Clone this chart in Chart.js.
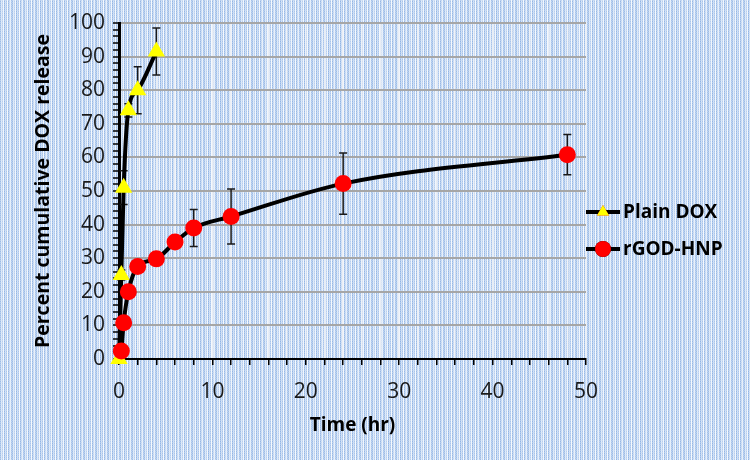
<!DOCTYPE html>
<html>
<head>
<meta charset="utf-8">
<script src="https://cdn.jsdelivr.net/npm/chart.js@4.4.0/dist/chart.umd.min.js"></script>
<style>
    html, body { margin: 0; padding: 0; background: #c6d9f0; }
    #wrap { width: 750px; height: 460px; }
</style>
</head>
<body>
<div id="wrap"><canvas id="releaseChart" width="750" height="460"></canvas></div>
<script>
// Plain DOX
const doxTimes = [0, 0.25, 0.5, 1, 2, 4];
const doxRelease = [0, 25, 51, 74, 80, 91.5];
const doxError = [0, 1.5, 5, 2, 7, 7];

// rGOD-HNP
const hnpTimes = [0.25, 0.5, 1, 2, 4, 6, 8, 12, 24, 48];
const hnpRelease = [2.4, 10.8, 20, 27.5, 29.8, 34.8, 39, 42.4, 52.2, 60.8];
const hnpError = [0, 0, 0, 0, 0, 0, 5.5, 8.2, 9.1, 6];

const xTickLabels = [0, 10, 20, 30, 40, 50];
const yTickLabels = [0, 10, 20, 30, 40, 50, 60, 70, 80, 90, 100];

const fontFamily = '"Open Sans", "Noto Sans", sans-serif';

function toPoints(xs, ys) {
    return xs.map((x, i) => ({x: x, y: ys[i]}));
}

// textured blue background
function makePattern() {
    const c = document.createElement('canvas');
    c.width = 12;
    c.height = 4;
    const p = c.getContext('2d');
    const cols = ['#9dbde7', '#d8e5f7', '#b6cef0', '#f0f5fc', '#93b6e5', '#cadcf4',
                  '#a8c5ec', '#f4f8fd', '#98b9e6', '#c3d7f2', '#e3edfa', '#a6c3eb'];
    cols.forEach((col, i) => {
        p.fillStyle = col;
        p.fillRect(i, 0, 1, 4);
        p.fillStyle = 'rgba(255,255,255,0.3)';
        p.fillRect(i, (i % 2), 1, 1);
        p.fillRect(i, 2 + (i % 2), 1, 1);
    });
    return c;
}

const backgroundPlugin = {
    id: 'texture',
    beforeDraw(chart) {
        const ctx = chart.ctx;
        ctx.save();
        ctx.fillStyle = ctx.createPattern(makePattern(), 'repeat');
        ctx.fillRect(0, 0, chart.width, chart.height);
        ctx.restore();
    }
};

const errorBarPlugin = {
    id: 'errorBars',
    beforeDatasetsDraw(chart) {
        const ctx = chart.ctx;
        const xs = chart.scales.x;
        const ys = chart.scales.y;
        ctx.save();
        ctx.strokeStyle = '#1a1a1a';
        ctx.lineWidth = 1.5;
        chart.data.datasets.forEach(ds => {
            ds.data.forEach((p, i) => {
                const e = ds.errors[i];
                if (!e) return;
                const px = xs.getPixelForValue(p.x);
                const top = ys.getPixelForValue(p.y + e);
                const bot = ys.getPixelForValue(p.y - e);
                ctx.beginPath();
                ctx.moveTo(px, top);
                ctx.lineTo(px, bot);
                ctx.moveTo(px - 4, top);
                ctx.lineTo(px + 4, top);
                ctx.moveTo(px - 4, bot);
                ctx.lineTo(px + 4, bot);
                ctx.stroke();
            });
        });
        ctx.restore();
    }
};

const legendPlugin = {
    id: 'sideLegend',
    afterDraw(chart) {
        const ctx = chart.ctx;
        const x0 = chart.chartArea.right;
        const rows = [
            {label: 'Plain DOX', y: 212, style: 'triangle', color: '#ffff00'},
            {label: 'rGOD-HNP', y: 249, style: 'circle', color: '#ff0000'}
        ];
        ctx.save();
        rows.forEach(r => {
            ctx.strokeStyle = '#000';
            ctx.lineWidth = 4;
            ctx.beginPath();
            ctx.moveTo(x0, r.y);
            ctx.lineTo(x0 + 34, r.y);
            ctx.stroke();
            Chart.helpers.drawPoint(ctx, {
                pointStyle: r.style,
                radius: r.style === 'circle' ? 8 : 7,
                borderWidth: 0
            }, x0 + 17, r.y);
            ctx.fillStyle = r.color;
            ctx.fill();
            ctx.fillStyle = '#000';
            ctx.font = 'bold 19px ' + fontFamily;
            ctx.textBaseline = 'middle';
            ctx.textAlign = 'left';
            ctx.fillText(r.label, x0 + 37, r.y + 1);
        });
        ctx.restore();
    }
};

const ctx = document.getElementById('releaseChart').getContext('2d');
new Chart(ctx, {
    type: 'line',
    data: {
        datasets: [{
            label: 'Plain DOX',
            data: toPoints(doxTimes, doxRelease),
            errors: doxError,
            borderColor: '#000',
            borderWidth: 4,
            cubicInterpolationMode: 'monotone',
            pointStyle: 'triangle',
            pointRadius: 10,
            pointBackgroundColor: '#ffff00',
            pointBorderColor: '#ffff00',
            pointBorderWidth: 0,
            clip: false,
            order: 1
        }, {
            label: 'rGOD-HNP',
            data: toPoints(hnpTimes, hnpRelease),
            errors: hnpError,
            borderColor: '#000',
            borderWidth: 4,
            cubicInterpolationMode: 'monotone',
            pointStyle: 'circle',
            pointRadius: 8.5,
            pointBackgroundColor: '#ff0000',
            pointBorderColor: '#ff0000',
            pointBorderWidth: 0,
            clip: false,
            order: 0
        }]
    },
    options: {
        responsive: false,
        devicePixelRatio: 1,
        animation: false,
        layout: {
            padding: {left: 0, top: 23, right: 164, bottom: 0}
        },
        plugins: {
            legend: {display: false},
            tooltip: {enabled: false}
        },
        scales: {
            x: {
                type: 'linear',
                min: 0,
                max: 50,
                afterFit: scale => { scale.height = 101; },
                ticks: {
                    stepSize: 2,
                    autoSkip: false,
                    maxRotation: 0,
                    padding: 14,
                    color: '#1a1a1a',
                    font: {family: fontFamily, size: 21},
                    callback: value => xTickLabels.includes(value) ? value : ''
                },
                grid: {
                    color: 'rgba(240,242,246,0.9)',
                    lineWidth: 1.5,
                    tickLength: 6,
                    tickColor: '#000',
                    tickWidth: 1.5
                },
                border: {color: '#000', width: 2},
                title: {
                    display: true,
                    text: 'Time (hr)',
                    color: '#000',
                    font: {family: fontFamily, size: 19, weight: 'bold'},
                    padding: {top: 23, bottom: 23}
                }
            },
            y: {
                min: 0,
                max: 100,
                afterFit: scale => { scale.width = 119; },
                ticks: {
                    stepSize: 2,
                    autoSkip: false,
                    padding: 8,
                    color: '#1a1a1a',
                    font: {family: fontFamily, size: 21},
                    callback: value => yTickLabels.includes(value) ? value : ''
                },
                grid: {
                    color: c => (c.tick && c.tick.value % 10 === 0) ? '#a6a6a6' : 'rgba(0,0,0,0)',
                    lineWidth: 2,
                    tickLength: 6,
                    tickColor: '#000',
                    tickWidth: 1.5
                },
                border: {color: '#000', width: 3},
                title: {
                    display: true,
                    text: 'Percent cumulative DOX release',
                    color: '#000',
                    font: {family: fontFamily, size: 19.5, weight: 'bold'},
                    padding: {top: 32, bottom: 32}
                }
            }
        }
    },
    plugins: [backgroundPlugin, errorBarPlugin, legendPlugin]
});
</script>
</body>
</html>
